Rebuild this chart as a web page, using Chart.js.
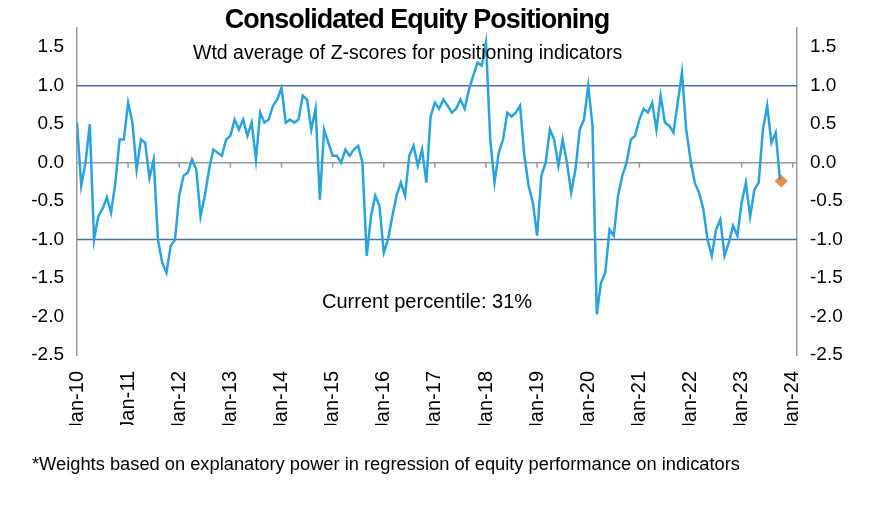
<!DOCTYPE html>
<html>
<head>
<meta charset="utf-8">
<script src="https://cdn.jsdelivr.net/npm/chart.js@4.4.1/dist/chart.umd.min.js"></script>
<style>
  body { margin: 0; background: #fff; font-family: "Liberation Sans", Arial, sans-serif; }
  #wrap { position: relative; width: 880px; height: 510px; }
  .txt { position: absolute; color: #000; white-space: nowrap; }
  #title { left: 0; width: 880px; top: 4px; text-align: center; font-size: 27px; font-weight: bold; letter-spacing: -1px; transform: translateX(-23px); }
  #sub { left: 193px; top: 41px; font-size: 19.5px; }
  #pct { left: 322px; top: 290px; font-size: 20px; }
  #note { left: 32px; top: 453px; font-size: 18.3px; }
</style>
</head>
<body>
<div id="wrap">
  <canvas id="c" width="880" height="510"></canvas>
  <div class="txt" id="title">Consolidated Equity Positioning</div>
  <div class="txt" id="sub">Wtd average of Z-scores for positioning indicators</div>
  <div class="txt" id="pct">Current percentile: 31%</div>
  <div class="txt" id="note">*Weights based on explanatory power in regression of equity performance on indicators</div>
</div>
<script>
// monthly readings, month 0 = Jan-10
const zScores = [
  0.52, -0.3, 0.0, 0.5, -1.0, -0.7, -0.6, -0.45, -0.65, -0.26, 0.3, 0.3,
  0.78, 0.52, -0.09, 0.3, 0.26, -0.2, 0.04, -1.0, -1.3, -1.43, -1.08, -1.0,
  -0.43, -0.17, -0.13, 0.04, -0.09, -0.7, -0.43, -0.09, 0.17, 0.13, 0.09, 0.3,
  0.35, 0.56, 0.43, 0.56, 0.35, 0.52, 0.04, 0.65, 0.52, 0.56, 0.74, 0.82,
  0.97, 0.52, 0.56, 0.52, 0.56, 0.87, 0.82, 0.43, 0.7, -0.48, 0.43, 0.26,
  0.09, 0.09, 0.0, 0.17, 0.09, 0.17, 0.22, 0.0, -1.21, -0.7, -0.43, -0.56,
  -1.17, -1.0, -0.7, -0.43, -0.26, -0.43, 0.09, 0.22, -0.04, 0.17, -0.26, 0.6,
  0.78, 0.7, 0.82, 0.74, 0.65, 0.7, 0.82, 0.7, 0.95, 1.13, 1.3, 1.26,
  1.56, 0.3, -0.26, 0.13, 0.3, 0.65, 0.6, 0.65, 0.74, 0.09, -0.3, -0.52,
  -0.95, -0.17, 0.0, 0.43, 0.3, -0.04, 0.3, 0.0, -0.39, -0.09, 0.43, 0.56,
  1.0, 0.48, -1.97, -1.56, -1.43, -0.87, -0.95, -0.43, -0.17, 0.0, 0.3, 0.35,
  0.56, 0.7, 0.65, 0.78, 0.43, 0.87, 0.52, 0.48, 0.39, 0.78, 1.17, 0.43,
  0.04, -0.26, -0.39, -0.6, -1.0, -1.21, -0.87, -0.74, -1.21, -1.04, -0.82, -0.95,
  -0.52, -0.26, -0.7, -0.35, -0.26, 0.43, 0.74, 0.26, 0.39, -0.22
];
const latestMonth = 165.3;
const latestValue = -0.24;
const yTicks = [1.5, 1.0, 0.5, 0.0, -0.5, -1.0, -1.5, -2.0, -2.5];
const bandLevels = [1.0, -1.0];

const grey = '#9a9a9a';
const fontTick = { family: '"Liberation Sans", Arial, sans-serif', size: 19 };

const guides = {
  id: 'guides',
  beforeDatasetsDraw(chart) {
    const { ctx, chartArea, scales } = chart;
    ctx.save();
    ctx.strokeStyle = '#4a6fa5';
    ctx.lineWidth = 1.5;
    bandLevels.forEach(v => {
      const y = scales.y.getPixelForValue(v);
      ctx.beginPath(); ctx.moveTo(chartArea.left, y); ctx.lineTo(chartArea.right, y); ctx.stroke();
    });
    const y0 = scales.y.getPixelForValue(0);
    ctx.strokeStyle = grey;
    ctx.lineWidth = 1.5;
    ctx.beginPath(); ctx.moveTo(chartArea.left, y0); ctx.lineTo(chartArea.right, y0); ctx.stroke();
    for (let m = 12; m <= 168; m += 12) {
      const x = scales.x.getPixelForValue(m);
      ctx.beginPath(); ctx.moveTo(x, y0); ctx.lineTo(x, y0 + 5); ctx.stroke();
    }
    ctx.restore();
  }
};

const yOpts = (pos, w) => ({
  position: pos,
  min: -2.5, max: 1.75,
  afterBuildTicks: s => { s.ticks = yTicks.map(v => ({ value: v })); },
  afterFit: s => { s.width = w; },
  ticks: { color: '#000', font: fontTick, padding: 8, callback: v => v.toFixed(1) },
  grid: { display: false, drawTicks: true, tickLength: 5, color: grey },
  border: { color: grey, width: 1.5 }
});

new Chart(document.getElementById('c'), {
  type: 'line',
  data: {
    datasets: [
      {
        data: zScores.map((v, i) => ({ x: i, y: v })),
        borderColor: '#29a3df', borderWidth: 2.5, pointRadius: 0, tension: 0
      },
      {
        data: [{ x: latestMonth, y: latestValue }],
        showLine: false, pointStyle: 'rectRot', pointRadius: 6,
        backgroundColor: '#f0894a', borderColor: '#f0894a'
      }
    ]
  },
  options: {
    responsive: false,
    animation: false,
    layout: { padding: { left: 0, right: 0, top: 28, bottom: 85 } },
    plugins: { legend: { display: false }, tooltip: { enabled: false } },
    scales: {
      x: {
        type: 'linear', min: 0, max: 169,
        afterBuildTicks: s => { s.ticks = []; for (let m = 0; m <= 168; m += 12) s.ticks.push({ value: m }); },
        afterFit: s => { s.height = 70; },
        ticks: {
          color: '#000', font: { ...fontTick, size: 20 }, minRotation: 90, maxRotation: 90, padding: 8,
          callback: v => 'Jan-' + String(10 + v / 12).padStart(2, '0')
        },
        grid: { display: false },
        border: { display: false }
      },
      y: yOpts('left', 77),
      y1: yOpts('right', 83)
    }
  },
  plugins: [guides]
});
</script>
</body>
</html>
